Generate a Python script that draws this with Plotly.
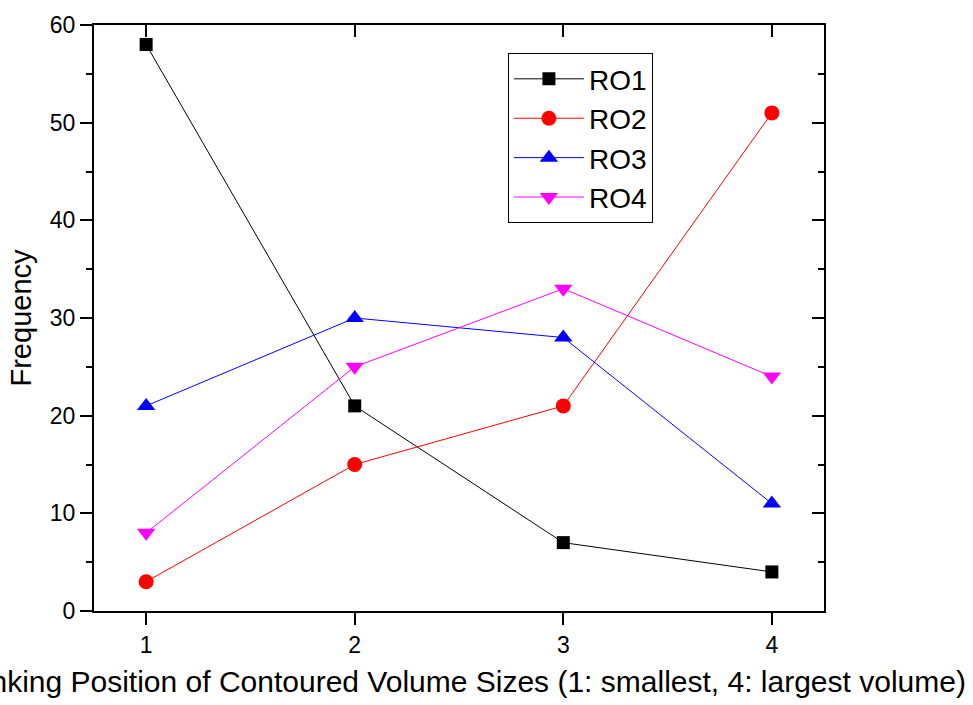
import plotly.graph_objects as go

ranks = [1, 2, 3, 4]
ro1 = [58, 21, 7, 4]
ro2 = [3, 15, 21, 51]
ro3 = [21, 30, 28, 11]
ro4 = [8, 25, 33, 24]
series_names = ["RO1", "RO2", "RO3", "RO4"]
series_vals = [ro1, ro2, ro3, ro4]
colors = ["#000000", "#ff0000", "#0000ff", "#ff00ff"]
symbols = ["square", "circle", "triangle-up", "triangle-down"]
sizes = [13, 15, 16, 16]

FONT = "Liberation Sans, Arial, Helvetica, sans-serif"

fig = go.Figure()
for name, vals, c, s, sz in zip(series_names, series_vals, colors, symbols, sizes):
    fig.add_trace(go.Scatter(
        x=ranks, y=vals, name=name, mode="lines+markers",
        line=dict(color=c, width=1),
        marker=dict(symbol=s, size=sz, color=c, line=dict(width=0)),
        cliponaxis=False,
    ))

# carrier trace for the mirrored (top/right) axes
fig.add_trace(go.Scatter(x=ranks, y=ro1, xaxis="x2", yaxis="y2", mode="none",
                         showlegend=False, hoverinfo="skip"))

xr = [0.75, 4.25]
yr = [0, 60]
axis_common = dict(showline=True, linecolor="black", linewidth=2, showgrid=False,
                   zeroline=False, tickcolor="black", tickwidth=2, ticklen=12,
                   tickfont=dict(family=FONT, size=23, color="black"))

fig.update_layout(
    width=973, height=705,
    margin=dict(l=94, r=149, t=24, b=93),
    paper_bgcolor="white", plot_bgcolor="white",
    font=dict(family=FONT, color="black"),
    xaxis=dict(range=xr, tickvals=ranks, ticks="outside",
               title=dict(text="Ranking Position of Contoured Volume Sizes (1: smallest, 4: largest volume)",
                          font=dict(family=FONT, size=30, color="black"), standoff=14),
               **axis_common),
    yaxis=dict(range=yr, dtick=10, ticks="outside",
               minor=dict(ticks="outside", ticklen=6, dtick=5, tickcolor="black", tickwidth=2),
               title=dict(text="Frequency", font=dict(family=FONT, size=29, color="black"), standoff=10),
               **axis_common),
    xaxis2=dict(range=xr, tickvals=ranks, ticks="inside", overlaying="x", side="top",
                anchor="y2", showticklabels=False, **axis_common),
    yaxis2=dict(range=yr, dtick=10, ticks="inside", overlaying="y", side="right",
                anchor="x2", showticklabels=False,
                minor=dict(ticks="inside", ticklen=6, dtick=5, tickcolor="black", tickwidth=2),
                **axis_common),
    legend=dict(x=0.567, y=0.952, xanchor="left", yanchor="top",
                bordercolor="black", borderwidth=1, bgcolor="white",
                font=dict(family=FONT, size=28, color="black"),
                itemwidth=70, tracegroupgap=0),
    showlegend=True,
)

fig.write_html("out.html")
